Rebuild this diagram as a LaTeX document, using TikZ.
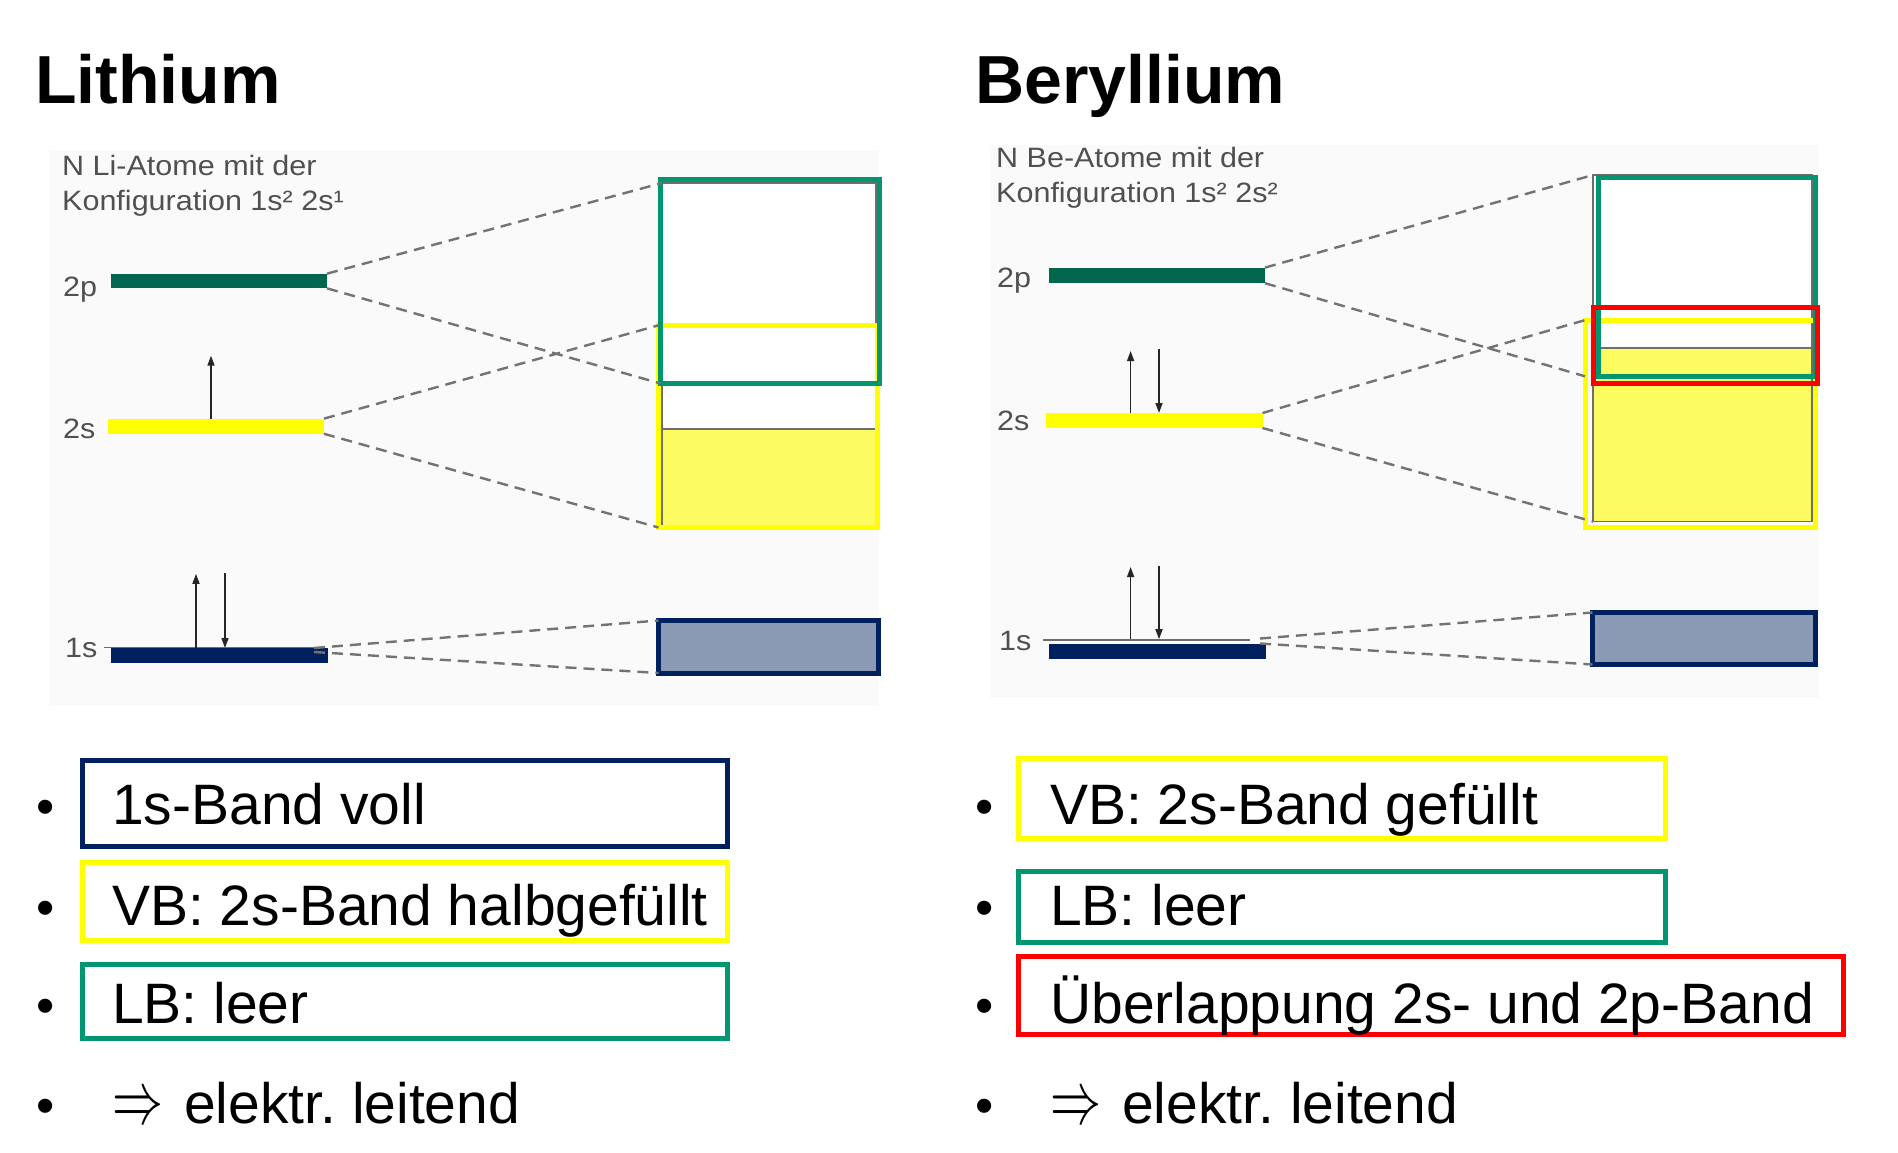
\documentclass[tikz,border=0pt]{standalone}
\usepackage{fontspec}
\setmainfont{Liberation Sans}
\newfontfamily\diagfont[FakeStretch=1.09]{Liberation Sans}
\usetikzlibrary{arrows.meta}
\definecolor{bgpanel}{RGB}{249,250,249}
\definecolor{dkgreen}{RGB}{0,102,78}
\definecolor{lbgreen}{RGB}{0,150,112}
\definecolor{navy}{RGB}{0,32,96}
\definecolor{vbyellow}{RGB}{255,255,0}
\definecolor{fillyellow}{RGB}{252,252,96}
\definecolor{coreband}{RGB}{138,154,181}
\definecolor{txtgray}{RGB}{80,80,80}
\definecolor{dashgray}{RGB}{115,115,115}
\definecolor{framegray}{RGB}{110,110,110}
\newcommand{\implarrow}{\scalebox{5.1}[7.5]{\fontsize{10}{12}\selectfont$\Rightarrow$}\hspace{21pt}}
\tikzset{
  panel/.style={rectangle, fill=bgpanel, inner sep=0pt, outer sep=0pt, anchor=north west},
  bar/.style={rectangle, inner sep=0pt, outer sep=0pt},
  levelline/.style={rectangle, fill=framegray, inner sep=0pt, outer sep=0pt, minimum height=1.6pt},
  bandframe/.style={rectangle, draw=framegray, line width=1.6pt, inner sep=0pt, outer sep=0pt, anchor=north west},
  frame/.style={rectangle, line width=5pt, inner sep=0pt, outer sep=0pt, anchor=north west},
  tie/.style={draw=dashgray, line width=2.4pt, dash pattern=on 11pt off 7pt},
  spin/.style={-{Triangle[length=10pt,width=7pt]}, line width=1.6pt, draw=black!85},
  small/.style={font=\diagfont\fontsize{28}{34}\selectfont, text=txtgray, inner sep=0pt, anchor=base west},
  ttl/.style={font=\fontsize{68}{80}\selectfont\bfseries, inner sep=0pt, anchor=base west},
  item/.style={font=\fontsize{57}{68}\selectfont, inner sep=0pt, anchor=base west},
  dot/.style={font=\fontsize{52}{60}\selectfont, inner sep=0pt, anchor=base},
  box/.style={rectangle, line width=5pt, inner sep=0pt, outer sep=0pt, anchor=north west},
}
\begin{document}
\begin{tikzpicture}[x=1pt,y=-1pt]
\useasboundingbox (0,0) rectangle (1898,1152);
\fill[white] (0,0) rectangle (1898,1152);

% ================= Lithium =================
\node[ttl] (lititle) at (35,103) {Lithium};
\node[panel, minimum width=830pt, minimum height=553.6pt] (libg) at (48.6,151) {};
\node[small] (liinfoa) at (62,175.8) {N Li-Atome mit der};
\node[small] (liinfob) at (62,210) {Konfiguration 1s² 2s¹};
\node[small] (lil2p) at (63,296) {2p};
\node[small] (lil2s) at (63,438) {2s};
\node[small] (lil1s) at (65,657) {1s};

% band diagram
\node[bandframe, fill=white, minimum width=214pt, minimum height=342.6pt] (liband) at (662,183) {};
\node[bandframe, fill=fillyellow, minimum width=214pt, minimum height=96.6pt] (lifill) at (662,429) {};
\node[frame, draw=vbyellow, minimum width=219pt, minimum height=202.2pt] (liyellow) at (658.5,325.3) {};
\node[frame, draw=lbgreen, minimum width=219pt, minimum height=204.2pt] (ligreen) at (660.5,179.3) {};
\node[frame, draw=navy, fill=coreband, minimum width=220pt, minimum height=52.5pt] (li1sband) at (658.5,620.5) {};

% levels
\node[levelline, minimum width=214pt] (li1sline) at (211,647.5) {};
\node[bar, fill=dkgreen, minimum width=216pt, minimum height=14.7pt] (li2p) at (219,281) {};
\node[bar, fill=vbyellow, minimum width=216pt, minimum height=15.2pt] (li2s) at (216,426.2) {};
\node[bar, fill=navy, minimum width=217pt, minimum height=15pt] (li1s) at (219.5,655.5) {};

% dashed connections
\draw[tie] (li2p.north east) -- (liband.north west);
\draw[tie] (li2p.south east) -- (ligreen.south west);
\draw[tie] (li2s.north east) -- (liyellow.north west);
\draw[tie] (li2s.south east) -- (liyellow.south west);
\draw[tie] ([xshift=-14pt]li1s.north east) -- (li1sband.north west);
\draw[tie] ([xshift=-14pt,yshift=-4pt]li1s.north east) -- (li1sband.south west);

% electrons
\coordinate (li2sup) at (211,355.7);
\coordinate (li1sup) at (196,573.8);
\coordinate (li1sdn) at (225,572.8);
\draw[spin] (li2s.north -| li2sup) -- (li2sup);
\draw[spin] (li1s.north -| li1sup) -- (li1sup);
\draw[spin] (li1sdn) -- (li1s.north -| li1sdn);

% ================= Beryllium =================
\node[ttl] (betitle) at (975,103) {Beryllium};
\node[panel, minimum width=829.5pt, minimum height=553pt] (bebg) at (989.5,144.6) {};
\node[small] (beinfoa) at (996,167.5) {N Be-Atome mit der};
\node[small] (beinfob) at (996,202) {Konfiguration 1s² 2s²};
\node[small] (bel2p) at (997,287) {2p};
\node[small] (bel2s) at (997,430.5) {2s};
\node[small] (bel1s) at (999,650) {1s};

\node[bandframe, fill=white, minimum width=219pt, minimum height=346.6pt] (beband) at (1593,175) {};
\node[bandframe, fill=fillyellow, minimum width=219pt, minimum height=173.8pt] (befill) at (1593,347.8) {};
\node[frame, draw=vbyellow, minimum width=230pt, minimum height=207.5pt] (beyellow) at (1585.5,320) {};
\node[frame, draw=lbgreen, minimum width=217pt, minimum height=198.5pt] (begreen) at (1598,177.8) {};
\node[frame, draw=red, minimum width=224pt, minimum height=76pt] (bered) at (1593.5,307.5) {};
\node[frame, draw=navy, fill=coreband, minimum width=223pt, minimum height=52pt] (be1sband) at (1592.5,612.5) {};

\node[levelline, minimum width=207pt] (be1sline) at (1146.5,640) {};
\node[bar, fill=dkgreen, minimum width=216pt, minimum height=15.6pt] (be2p) at (1157,275.4) {};
\node[bar, fill=vbyellow, minimum width=216.5pt, minimum height=15pt] (be2s) at (1154.25,420.5) {};
\node[bar, fill=navy, minimum width=217pt, minimum height=15.2pt] (be1s) at (1157.5,651.1) {};

\draw[tie] (be2p.north east) -- (beband.north west);
\draw[tie] (be2p.south east) -- ([xshift=-13pt]begreen.south west);
\draw[tie] (be2s.north east) -- (beyellow.north west);
\draw[tie] (be2s.south east) -- (beband.south west);
\draw[tie] ([xshift=-6pt,yshift=5pt]be1s.north east) -- (be1sband.north west);
\draw[tie] ([xshift=-6pt]be1s.north east) -- (be1sband.south west);

\coordinate (be2sup) at (1130.6,351);
\coordinate (be2sdn) at (1159,349);
\coordinate (be1sup) at (1130.6,567);
\coordinate (be1sdn) at (1159,565.5);
\draw[spin] (be2s.north -| be2sup) -- (be2sup);
\draw[spin] (be2sdn) -- (be2s.north -| be2sdn);
\draw[spin] (be1sline.north -| be1sup) -- (be1sup);
\draw[spin] (be1sdn) -- (be1sline.north -| be1sdn);

% ================= bullet lists =================
\node[box, draw=navy, minimum width=644.5pt, minimum height=86pt] (lbox1) at (82.5,760.5) {};
\node[box, draw=vbyellow, minimum width=644.5pt, minimum height=78pt] (lbox2) at (82.5,862.5) {};
\node[box, draw=lbgreen, minimum width=644.5pt, minimum height=74pt] (lbox3) at (82.5,964.5) {};
\node[dot] (ldot1) at (46,824) {•};
\node[dot] (ldot2) at (46,925) {•};
\node[dot] (ldot3) at (46,1023.5) {•};
\node[dot] (ldot4) at (46,1123) {•};
\node[item] (ltxt1) at (112,824) {1s-Band voll};
\node[item] (ltxt2) at (112,925) {VB: 2s-Band halbgefüllt};
\node[item] (ltxt3) at (112,1023.5) {LB: leer};
\node[item] (ltxt4) at (112,1123) {\implarrow elektr.\ leitend};

\node[box, draw=vbyellow, minimum width=647pt, minimum height=79.5pt] (rbox1) at (1018,758.5) {};
\node[box, draw=lbgreen, minimum width=647pt, minimum height=70.5pt] (rbox2) at (1018,871.5) {};
\node[box, draw=red, minimum width=825.5pt, minimum height=78pt] (rbox3) at (1018,956.5) {};
\node[dot] (rdot1) at (985,824) {•};
\node[dot] (rdot2) at (985,925) {•};
\node[dot] (rdot3) at (985,1023.5) {•};
\node[dot] (rdot4) at (985,1123) {•};
\node[item] (rtxt1) at (1050,824) {VB: 2s-Band gefüllt};
\node[item] (rtxt2) at (1050,925) {LB: leer};
\node[item] (rtxt3) at (1050,1023.5) {Überlappung 2s- und 2p-Band};
\node[item] (rtxt4) at (1050,1123) {\implarrow elektr.\ leitend};
\end{tikzpicture}
\end{document}
